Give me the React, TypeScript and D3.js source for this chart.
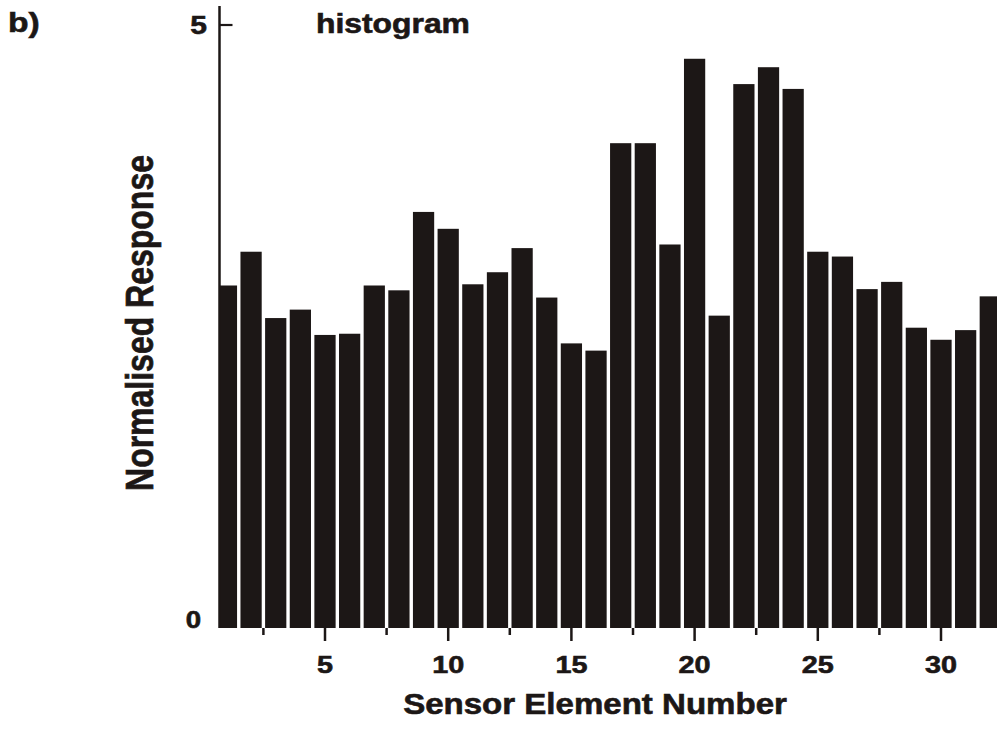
import React from "react";
import * as d3 from "d3";

const sensors: number[] = Array.from({ length: 32 }, (_, i) => i + 1);
const responses: number[] = [
  2.84, 3.12, 2.57, 2.64, 2.43, 2.44, 2.84, 2.8, 3.45, 3.31,
  2.85, 2.95, 3.15, 2.74, 2.36, 2.3, 4.02, 4.02, 3.18, 4.72,
  2.59, 4.51, 4.65, 4.47, 3.12, 3.08, 2.81, 2.87, 2.49, 2.39,
  2.47, 2.75,
];
const yTickValues: number[] = [0, 5];
const xMajorTicks: number[] = [5, 10, 15, 20, 25, 30];
const xMinorTicks: number[] = [2.5, 7.5, 12.5, 17.5, 22.5, 27.5];

const W = 997;
const H = 733;
const FONT = "'Liberation Sans', Arial, Helvetica, sans-serif";
const INK = "#1c1716";

export default function App() {
  const x = d3.scaleLinear().domain([0, 32]).range([201.8, 201.8 + 32 * 24.64]);
  const y = d3.scaleLinear().domain([0, 5]).range([628, 25]);
  const axisX = 219.5;
  const gap = 1.7;
  const textStyle = { stroke: INK, strokeWidth: 0.6 };

  return (
    <svg
      width={W}
      height={H}
      style={{ position: "absolute", left: 0, top: 0, background: "#fff" }}
    >
      <defs>
        <clipPath id="plotClip">
          <rect x={axisX} y={0} width={W - axisX} height={H} />
        </clipPath>
      </defs>
      <rect x={0} y={0} width={W} height={H} fill="#fff" />

      {/* bars */}
      <g clipPath="url(#plotClip)">
        {sensors.map((s, i) => {
          const x0 = x(s - 0.5) + gap;
          const x1 = x(s + 0.5) - gap;
          return (
            <rect
              key={s}
              x={x0}
              y={y(responses[i])}
              width={x1 - x0}
              height={y(0) - y(responses[i])}
              fill={INK}
            />
          );
        })}
      </g>

      {/* y axis */}
      <line x1={axisX} x2={axisX} y1={6} y2={y(0)} stroke={INK} strokeWidth={2.5} />
      <line x1={axisX} x2={axisX + 13} y1={y(5)} y2={y(5)} stroke={INK} strokeWidth={2.2} />
      {yTickValues.map((v) => (
        <text
          key={v}
          transform={`translate(${v === 5 ? 207 : 201},${v === 5 ? 34 : 628}) scale(1.2,1)`}
          textAnchor="end"
          fontFamily={FONT}
          fontWeight="bold"
          fontSize={v === 5 ? 25 : 23}
          fill={INK}
          style={textStyle}
        >
          {v}
        </text>
      ))}

      {/* x ticks */}
      {xMajorTicks.map((t) => (
        <g key={"M" + t}>
          <line x1={x(t)} x2={x(t)} y1={y(0)} y2={y(0) + 13} stroke={INK} strokeWidth={2.5} />
          <text
            transform={`translate(${x(t)},673) scale(1.2,1)`}
            textAnchor="middle"
            fontFamily={FONT}
            fontWeight="bold"
            fontSize={24}
            fill={INK}
            style={textStyle}
          >
            {t}
          </text>
        </g>
      ))}
      {xMinorTicks.map((t) => (
        <line key={"m" + t} x1={x(t)} x2={x(t)} y1={y(0)} y2={y(0) + 7} stroke={INK} strokeWidth={2.5} />
      ))}

      {/* axis titles */}
      <text
        transform="translate(595,714) scale(1.14,1)"
        textAnchor="middle"
        fontFamily={FONT}
        fontWeight="bold"
        fontSize={29}
        fill={INK}
        style={textStyle}
      >
        Sensor Element Number
      </text>
      <text
        transform="translate(153,323) scale(1.2,1) rotate(-90)"
        textAnchor="middle"
        fontFamily={FONT}
        fontWeight="bold"
        fontSize={32}
        fill={INK}
        style={textStyle}
      >
        Normalised Response
      </text>

      {/* title and panel label */}
      <text
        transform="translate(316,33) scale(1.18,1)"
        fontFamily={FONT}
        fontWeight="bold"
        fontSize={27}
        fill={INK}
        style={textStyle}
      >
        histogram
      </text>
      <text
        transform="translate(8,32) scale(1.2,1)"
        fontFamily={FONT}
        fontWeight="bold"
        fontSize={28}
        fill={INK}
        style={textStyle}
      >
        b)
      </text>
    </svg>
  );
}
